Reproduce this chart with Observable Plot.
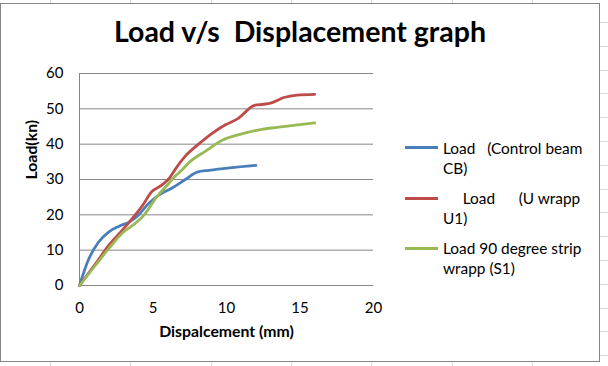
<!DOCTYPE html>
<html>
<head>
<meta charset="utf-8">
<script src="https://cdn.jsdelivr.net/npm/d3@7"></script>
<script src="https://cdn.jsdelivr.net/npm/@observablehq/plot@0.6"></script>
<style>
  html, body { margin: 0; padding: 0; }
  body {
    width: 608px; height: 366px; overflow: hidden; position: relative;
    font-family: Lato, "Open Sans", sans-serif;
    background-color: #fff;
    background-image:
      repeating-linear-gradient(to right, transparent 0px, transparent 50px, #d9d9d9 50px, #d9d9d9 51px, transparent 51px, transparent 80.3px),
      repeating-linear-gradient(to bottom, transparent 0px, transparent 22px, #d9d9d9 22px, #d9d9d9 23px, transparent 23px, transparent 23.8px);
  }
  #chart {
    position: absolute; left: 0; top: 3px; width: 598px; height: 357px;
    border: 1px solid #868686; background: #fff;
  }
  #plot { position: absolute; left: 0; top: 0; }
  #title {
    position: absolute; left: 0; width: 600px; top: 15px; text-align: center;
    font-weight: bold; font-size: 28.5px; line-height: 32px; white-space: pre; color: #000;
  }
  #legend { position: absolute; left: 0; top: 0; }
  .item { position: absolute; left: 405px; }
  .swatch { position: absolute; left: 0; width: 33px; height: 3px; }
  .label { position: absolute; left: 38px; font-size: 15.4px; line-height: 20.3px; white-space: pre; color: #000; }
</style>
</head>
<body>
<div id="chart"></div>
<div id="plot"></div>
<div id="title"></div>
<div id="legend"></div>
<script>
// ---- data ----
const titleText = "Load v/s  Displacement graph";
const xLabel = "Dispalcement (mm)";
const yLabel = "Load(kn)";
const xTicks = [0, 5, 10, 15, 20];
const yTicks = [0, 10, 20, 30, 40, 50, 60];

const seriesNames = ["Load   (Control beam CB)", "Load (U wrapp U1)", "Load 90 degree strip wrapp (S1)"];
const legendLines = [
  ["Load   (Control beam", "CB)"],
  ["     Load      (U wrapp", "U1)"],
  ["Load 90 degree strip", "wrapp (S1)"]
];
const seriesColors = ["#4A7EBB", "#BE4B48", "#98B954"];

const cbX = [0, 0.6, 1.3, 2, 2.7, 3.4, 4, 4.7, 5.4, 6.3, 7.2, 8, 8.8, 10.2, 12];
const cbY = [0, 7.2, 12.3, 15.2, 16.8, 18, 19.9, 23.2, 25.6, 27.6, 30, 32.1, 32.6, 33.3, 34];

const u1X = [0, 1.1, 2, 2.9, 3.6, 4.3, 4.9, 5.6, 6.1, 6.5, 7.2, 8.1, 9, 9.9, 10.8, 11.9, 12.5, 13, 13.9, 14.8, 16];
const u1Y = [0, 6.2, 11.4, 15.6, 19, 22.7, 26.5, 28.4, 30.3, 32.8, 36.6, 40, 43, 45.4, 47.3, 51, 51.3, 51.6, 53.2, 53.9, 54.1];

const s1X = [0, 1.1, 2, 2.9, 3.8, 4.5, 5.2, 5.9, 6.5, 7, 7.4, 8.6, 9.7, 11.1, 12.4, 13.3, 14.7, 16];
const s1Y = [0, 5.8, 10.5, 14.8, 17.6, 20.5, 24.8, 28.1, 30.9, 32.8, 34.6, 38.1, 41.1, 43, 44.2, 44.7, 45.4, 46];

// ---- build table ----
const seriesXs = [cbX, u1X, s1X];
const seriesYs = [cbY, u1Y, s1Y];
const rows = [];
seriesNames.forEach((name, i) => {
  seriesXs[i].forEach((x, j) => rows.push({series: name, x, y: seriesYs[i][j]}));
});

const grey = "#868686";
const plot = Plot.plot({
  width: 608,
  height: 366,
  marginLeft: 79,
  marginRight: 235,
  marginTop: 73,
  marginBottom: 81,
  style: {background: "transparent", fontFamily: "Lato, 'Open Sans', sans-serif", fontSize: "15px", color: "#000"},
  x: {domain: [0, 20], ticks: xTicks},
  y: {domain: [0, 60], ticks: yTicks},
  color: {domain: seriesNames, range: seriesColors},
  marks: [
    Plot.gridY(yTicks, {stroke: grey, strokeOpacity: 1, strokeWidth: 1}),
    Plot.ruleX([0], {stroke: grey, strokeWidth: 1}),
    Plot.axisY({ticks: yTicks, tickSize: 0, tickPadding: 16, label: null, fontSize: 15}),
    Plot.axisX({ticks: xTicks, tickSize: 0, tickPadding: 17, label: null, fontSize: 15}),
    Plot.line(rows, {x: "x", y: "y", z: "series", stroke: "series", strokeWidth: 2.8, curve: "monotone-x", strokeLinecap: "round", strokeLinejoin: "round"}),
    Plot.text([xLabel], {frameAnchor: "bottom", dy: 46.5, text: d => d, fontWeight: "bold", fontSize: 15.8, lineAnchor: "middle"}),
    Plot.text([yLabel], {frameAnchor: "left", dx: -47.5, text: d => d, fontWeight: "bold", fontSize: 15.8, rotate: -90, lineAnchor: "middle"})
  ]
});
document.getElementById("plot").appendChild(plot);

document.getElementById("title").textContent = titleText;

const legend = document.getElementById("legend");
const itemTops = [147.7, 198.3, 248.3];
legendLines.forEach((lines, i) => {
  const item = document.createElement("div");
  item.className = "item";
  item.style.top = itemTops[i] + "px";
  const sw = document.createElement("div");
  sw.className = "swatch";
  sw.style.background = seriesColors[i];
  sw.style.top = "-1.5px";
  item.appendChild(sw);
  const lab = document.createElement("div");
  lab.className = "label";
  lab.style.top = "-10.15px";
  lab.textContent = lines.join("\n");
  item.appendChild(lab);
  legend.appendChild(item);
});
</script>
</body>
</html>
